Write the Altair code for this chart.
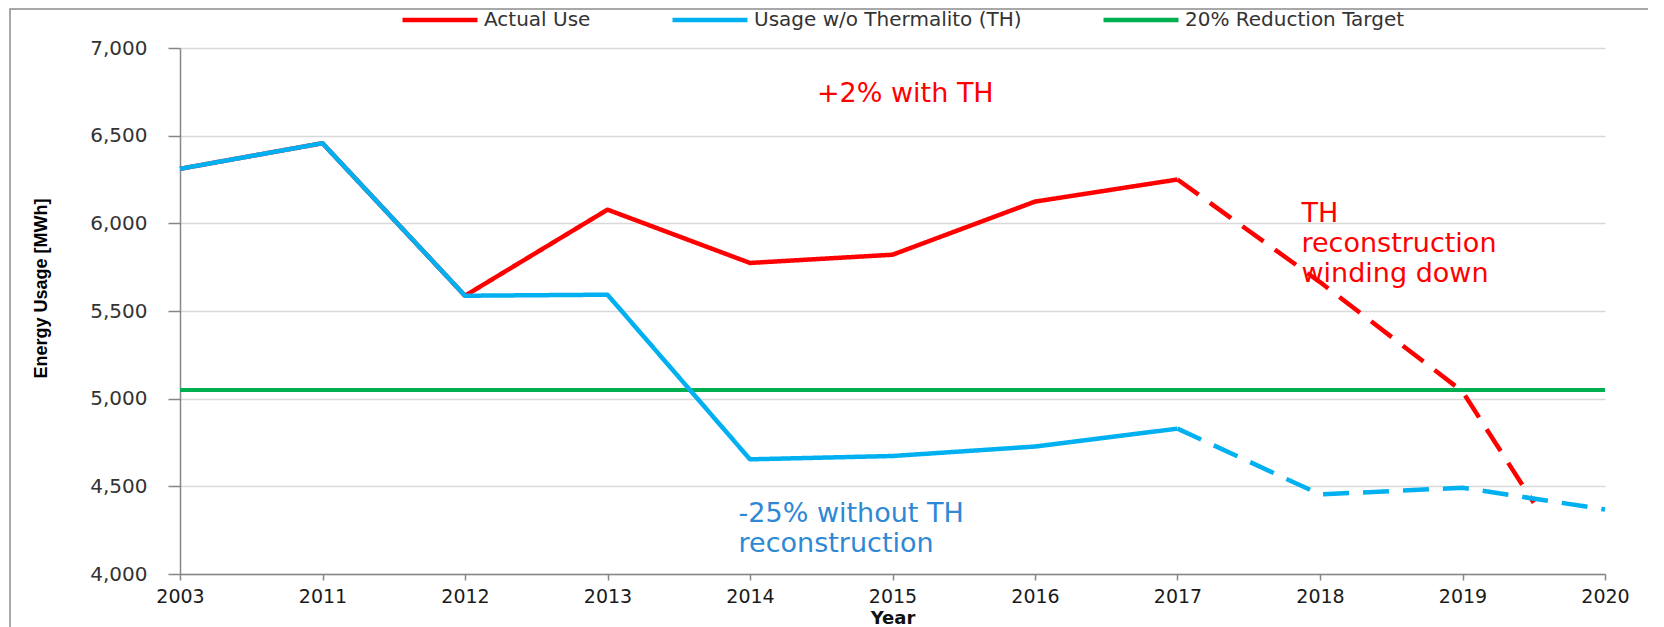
import altair as alt
import pandas as pd

# ---------------- data ----------------
years = ["2003", "2011", "2012", "2013", "2014", "2015", "2016", "2017", "2018", "2019", "2020"]
series_names = ["Actual Use", "Usage w/o Thermalito (TH)", "20% Reduction Target"]
series_colors = ["#FF0000", "#00B0F0", "#00B050"]

# category index positions (0 = 2003 ... 10 = 2020)
actual_pos = [0, 1, 2, 3, 4, 5, 6, 7]
actual_use = [6311, 6457, 5587, 6078, 5774, 5821, 6124, 6250]
actual_fc_pos = [7, 8, 9, 9.5]
actual_fc = [6250, 5665, 5041, 4406]

usage_pos = [0, 1, 2, 3, 4, 5, 6, 7]
usage_wo_th = [6311, 6457, 5587, 5593, 4654, 4673, 4727, 4829]
usage_fc_pos = [7, 8, 9, 10]
usage_fc = [4829, 4454, 4492, 4368]

target_pos = [0, 10]
target = [5050, 5050]

note_text = ["+2% with TH", "TH\nreconstruction\nwinding down", "-25% without TH\nreconstruction"]
note_x = [4.47, 7.87, 3.92]
note_y = [6692, 6008, 4297]
note_color = ["#FF0000", "#FF0000", "#2E88D4"]

# ---------------- table ----------------
rows = []
def add(pos, vals, series, seg):
    for p, v in zip(pos, vals):
        rows.append({"idx": p, "value": v, "series": series, "seg": seg})

add(actual_pos, actual_use, series_names[0], "solid")
add(actual_fc_pos, actual_fc, series_names[0], "dashed")
add(usage_pos, usage_wo_th, series_names[1], "solid")
add(usage_fc_pos, usage_fc, series_names[1], "dashed")
add(target_pos, target, series_names[2], "solid")
df = pd.DataFrame(rows)

label_expr = "[" + ",".join("'" + y + "'" for y in years) + "][datum.value]"

x_enc = alt.X(
    "idx:Q",
    scale=alt.Scale(domain=[0, 10], nice=False, zero=False),
    axis=alt.Axis(
        values=list(range(len(years))),
        labelExpr=label_expr,
        title="Year",
        grid=False,
        tickSize=6,
        tickColor="#868686",
        tickWidth=1.5,
        domainColor="#868686",
        domainWidth=1.5,
        labelFont="DejaVu Sans",
        labelFontSize=19,
        labelColor="#1a1a1a",
        labelPadding=7,
        labelFlush=False,
        labelOverlap=False,
        titleFont="DejaVu Sans",
        titleFontWeight="bold",
        titleFontSize=18,
        titleColor="#111111",
        titleBaseline="top",
        titleY=35,
    ),
)
y_enc = alt.Y(
    "value:Q",
    scale=alt.Scale(domain=[4000, 7000], nice=False, zero=False),
    axis=alt.Axis(
        values=[4000, 4500, 5000, 5500, 6000, 6500, 7000],
        format=",d",
        title="Energy Usage [MWh]",
        grid=True,
        gridColor="#D9D9D9",
        gridWidth=1.5,
        tickSize=12,
        tickColor="#868686",
        tickWidth=1.5,
        domainColor="#868686",
        domainWidth=1.5,
        labelFont="DejaVu Sans",
        labelFontSize=20,
        labelColor="#333333",
        labelPadding=21,
        titleFont="Liberation Sans Narrow, Liberation Sans, Arial, sans-serif",
        titleFontWeight="bold",
        titleFontSize=18,
        titleColor="#000000",
        titleAngle=270,
        titleAlign="center",
        titleBaseline="alphabetic",
        titleX=-134,
        titleY=240,
    ),
)
color_enc = alt.Color(
    "series:N",
    scale=alt.Scale(domain=series_names, range=series_colors),
    legend=alt.Legend(
        title=None,
        orient="none",
        legendX=220,
        legendY=-68,
        direction="horizontal",
        symbolType="stroke",
        symbolSize=5625,
        symbolStrokeWidth=4.5,
        labelFont="DejaVu Sans",
        labelFontSize=20,
        labelColor="#333333",
        labelOffset=4,
        labelLimit=800,
        columnPadding=72,
    ),
)
dash_enc = alt.StrokeDash(
    "seg:N",
    scale=alt.Scale(domain=["solid", "dashed"], range=[[1, 0], [26, 14]]),
    legend=None,
)

base = alt.Chart(df)

def line_layer(name, width):
    return base.transform_filter(alt.datum.series == name).mark_line(
        strokeWidth=width, strokeJoin="round"
    ).encode(x=x_enc, y=y_enc, color=color_enc, strokeDash=dash_enc, detail="seg:N")

layers = [
    line_layer(series_names[2], 4),
    line_layer(series_names[0], 4.5),
    line_layer(series_names[1], 4.5),
]

notes_df = pd.DataFrame({"x": note_x, "y": note_y, "t": note_text, "c": note_color})
for i in range(len(note_text)):
    layers.append(
        alt.Chart(notes_df.iloc[[i]]).mark_text(
            align="left",
            baseline="alphabetic",
            lineBreak="\n",
            lineHeight=30,
            font="DejaVu Sans",
            fontSize=27,
            color=note_color[i],
        ).encode(x=alt.X("x:Q"), y=alt.Y("y:Q"), text="t:N")
    )

frame = alt.Chart(pd.DataFrame({"a": [0]})).mark_rect(
    fill=None, stroke="#8C8C8C", strokeWidth=1.5
).encode(
    x=alt.value(-170), x2=alt.value(3000), y=alt.value(-39), y2=alt.value(3000)
)
layers.append(frame)

chart = alt.layer(*layers).properties(
    width=1425,
    height=526,
    autosize=alt.AutoSizeParams(type="none"),
    padding={"left": 172, "top": 40, "right": 43, "bottom": 53},
    background="white",
).configure_view(stroke=None)

chart.save("out.html", embed_options={"renderer": "svg", "actions": False})
